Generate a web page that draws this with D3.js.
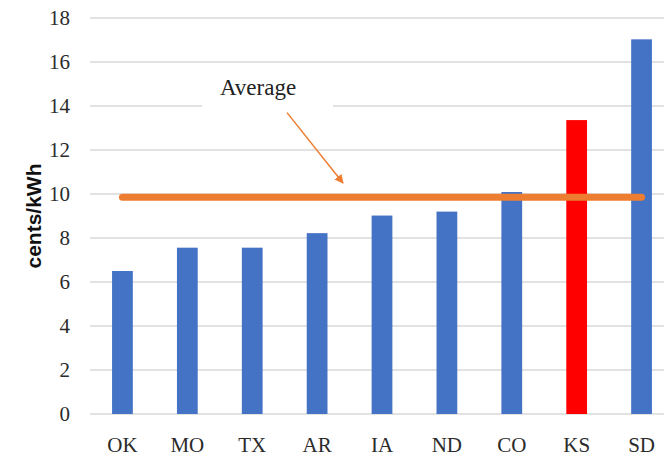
<!DOCTYPE html>
<html>
<head>
<meta charset="utf-8">
<script src="https://cdn.jsdelivr.net/npm/d3@7"></script>
<style>
  body { margin: 0; background: #fff; }
  .tick-label { font-family: "Liberation Serif", serif; font-size: 21px; fill: #2b2b2b; }
  .grid { stroke: #d9d9d9; stroke-width: 1.5; }
</style>
</head>
<body>
<script>
// states, sorted by price
var states = ["OK","MO","TX","AR","IA","ND","CO","KS","SD"];
var prices = [6.5, 7.56, 7.56, 8.22, 9.02, 9.2, 10.09, 13.36, 17.03];
var highlight = "KS";
var average = 9.85;
var yTicks = [0,2,4,6,8,10,12,14,16,18];

var width = 664;
var height = 457;
var margin = {left:90,right:-10,top:18,bottom:43};

var svg = d3.select("body").append("svg").attr("width",width).attr("height",height);

var x = d3.scaleBand()
	.domain(states)
	.range([margin.left, width - margin.right])
	.paddingInner(0.68)
	.paddingOuter(0.34);

var y = d3.scaleLinear()
	.domain([0,18])
	.range([height - margin.bottom, margin.top]);

// gridlines
svg.append("g").selectAll("line")
	.data(yTicks)
	.enter().append("line")
		.attr("class","grid")
		.attr("x1",margin.left)
		.attr("x2",width)
		.attr("y1",function(d){ return y(d); })
		.attr("y2",function(d){ return y(d); });

// y tick labels
svg.append("g").selectAll("text")
	.data(yTicks)
	.enter().append("text")
		.attr("class","tick-label")
		.attr("x",margin.left - 20)
		.attr("y",function(d){ return y(d); })
		.attr("dy","0.34em")
		.attr("text-anchor","end")
		.text(function(d){ return d; });

// bars
svg.append("g").selectAll("rect")
	.data(states)
	.enter().append("rect")
		.attr("x",function(d){ return x(d); })
		.attr("width",x.bandwidth())
		.attr("y",function(d,i){ return y(prices[i]); })
		.attr("height",function(d,i){ return y(0) - y(prices[i]); })
		.attr("fill",function(d){ return d == highlight ? "#ff0000" : "#4472c4"; });

// x labels
svg.append("g").selectAll("text")
	.data(states)
	.enter().append("text")
		.attr("class","tick-label")
		.attr("x",function(d){ return x(d) + x.bandwidth()/2; })
		.attr("y",y(0) + 38)
		.attr("text-anchor","middle")
		.text(function(d){ return d; });

// average line (one point per state, like the spreadsheet series)
var line = d3.line()
	.x(function(d){ return x(d) + x.bandwidth()/2; })
	.y(function(d){ return y(average); });

svg.append("path")
	.datum(states)
	.attr("d",line)
	.attr("fill","none")
	.attr("stroke","#ed7d31")
	.attr("stroke-width",7)
	.attr("stroke-linecap","round");

// annotation
var defs = svg.append("defs");
defs.append("marker")
	.attr("id","arrow")
	.attr("viewBox","0 0 10 10")
	.attr("refX",9).attr("refY",5)
	.attr("markerWidth",6).attr("markerHeight",6)
	.attr("orient","auto")
	.append("path")
		.attr("d","M0,0L10,5L0,10z")
		.attr("fill","#ed7d31");

var labelY = y(14.5);
svg.append("rect")
	.attr("x",202).attr("y",labelY - 27)
	.attr("width",131).attr("height",44)
	.attr("fill","#fff");

svg.append("text")
	.attr("class","tick-label")
	.attr("x",258)
	.attr("y",labelY)
	.attr("text-anchor","middle")
	.style("font-size","23px")
	.style("fill","#222")
	.text("Average");

svg.append("line")
	.attr("x1",287).attr("y1",y(13.7))
	.attr("x2",343).attr("y2",y(10.5))
	.attr("stroke","#ed7d31")
	.attr("stroke-width",1.5)
	.attr("marker-end","url(#arrow)");

// y axis title
svg.append("text")
	.attr("transform","translate(41,"+ ((y(0)+y(18))/2) +") rotate(-90)")
	.attr("text-anchor","middle")
	.style("font-family","'Liberation Sans', Arial, sans-serif")
	.style("font-weight","bold")
	.style("font-size","21px")
	.style("fill","#111")
	.text("cents/kWh");
</script>
</body>
</html>
